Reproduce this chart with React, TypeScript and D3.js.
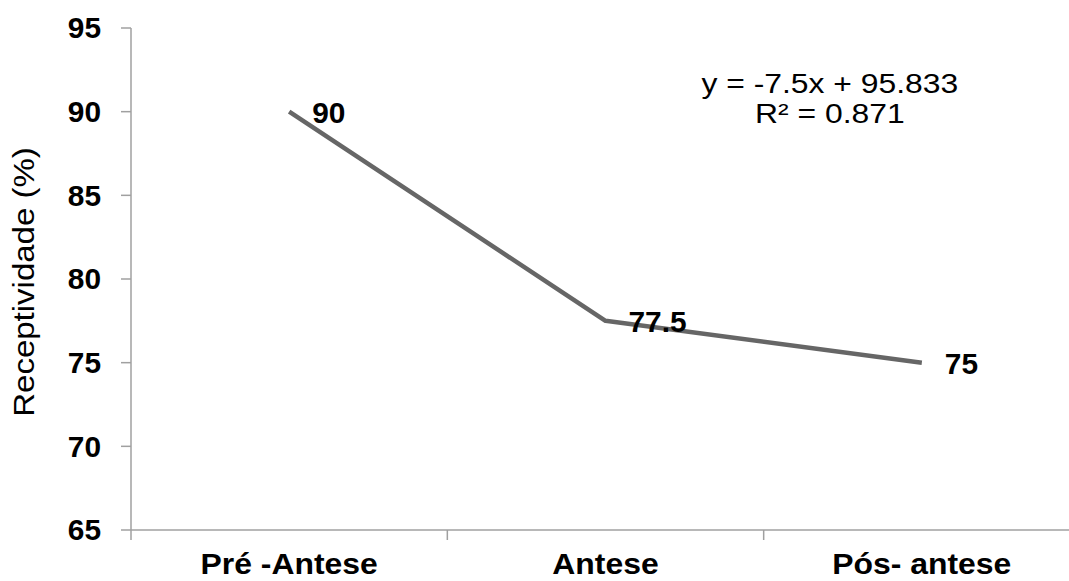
import * as d3 from 'd3'

const categories = ['Pré -Antese', 'Antese', 'Pós- antese']
const values = [90, 77.5, 75]
const valueLabels = ['90', '77.5', '75']
const yTicks = [65, 70, 75, 80, 85, 90, 95]
const equationLines = ['y = -7.5x + 95.833', 'R² = 0.871']

const W = 1069
const H = 581
const margin = { top: 28, right: -11, bottom: 51, left: 131 }
const FONT = 'Arial, "Liberation Sans", sans-serif'

// text stretched horizontally, like the source image
function SText(props: { x: number; y: number; sx: number; size: number; bold?: boolean; anchor?: string; dy?: string; children: string }) {
  const { x, y, sx, size, bold, anchor, dy, children } = props
  return (
    <text transform={`translate(${x},${y}) scale(${sx},1)`} dy={dy} textAnchor={anchor ?? 'start'}
      fontSize={size} fontWeight={bold ? 'bold' : 'normal'} fill="#000">{children}</text>
  )
}

export default function App() {
  const innerW = W - margin.left - margin.right
  const innerH = H - margin.top - margin.bottom

  const x = d3.scaleBand<string>().domain(categories).range([0, innerW]).padding(0)
  const y = d3.scaleLinear().domain([65, 95]).range([innerH, 0])
  const cx = (c: string) => (x(c) ?? 0) + x.bandwidth() / 2

  const line = d3.line<number>()
    .x((_, i) => cx(categories[i]))
    .y(d => y(d))

  const axisColor = '#a0a0a0'

  return (
    <svg width={W} height={H} style={{ position: 'absolute', left: 0, top: 0, background: '#fff', fontFamily: FONT }}>
      <rect width={W} height={H} fill="#fff" />
      <g transform={`translate(${margin.left},${margin.top})`}>
        {/* y axis */}
        <line x1={0} x2={0} y1={0} y2={innerH} stroke={axisColor} strokeWidth={1.5} />
        {yTicks.map(t => (
          <g key={t}>
            <line x1={-10} x2={0} y1={y(t)} y2={y(t)} stroke={axisColor} strokeWidth={1.5} />
            <SText x={-30} y={y(t)} dy="0.36em" anchor="end" size={29} sx={1.03} bold>{String(t)}</SText>
          </g>
        ))}

        {/* x axis */}
        <line x1={0} x2={innerW} y1={innerH} y2={innerH} stroke={axisColor} strokeWidth={1.5} />
        {categories.map(c => (
          <g key={c}>
            <line x1={x(c) ?? 0} x2={x(c) ?? 0} y1={innerH} y2={innerH + 10} stroke={axisColor} strokeWidth={1.5} />
            <SText x={cx(c)} y={innerH + 44} anchor="middle" size={29} sx={1.1} bold>{c}</SText>
          </g>
        ))}

        {/* series */}
        <path d={line(values) ?? ''} fill="none" stroke="#666" strokeWidth={4.5} strokeLinejoin="round" />
        {values.map((v, i) => (
          <SText key={i} x={cx(categories[i]) + 23} y={y(v)} dy="0.38em" size={29} sx={1.03} bold>{valueLabels[i]}</SText>
        ))}

        {/* trendline equation */}
        {equationLines.map((l, i) => (
          <SText key={l} x={cx(categories[2]) - 92} y={65 + i * 30} anchor="middle" size={27} sx={1.18}>{l}</SText>
        ))}
      </g>

      {/* y title */}
      <text transform={`translate(34, ${margin.top + 254}) rotate(-90) scale(1.1,1)`} textAnchor="middle" fontSize={30} fill="#000">Receptividade (%)</text>
    </svg>
  )
}
